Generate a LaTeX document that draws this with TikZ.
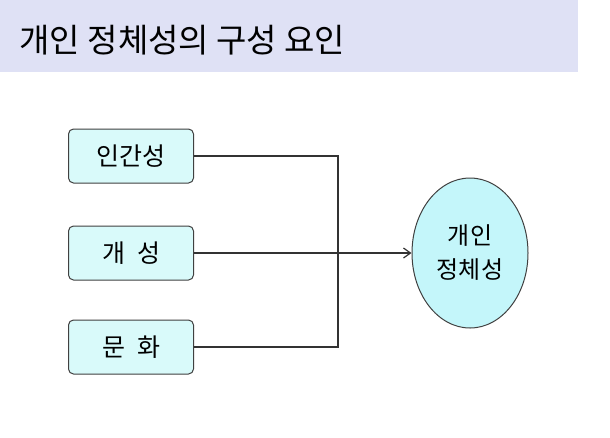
\documentclass[tikz,border=0pt]{standalone}
\usepackage{fontspec}
\setmainfont{Noto Sans CJK KR}
\usetikzlibrary{shapes.geometric,arrows.meta}
\definecolor{band}{HTML}{DFE1F5}
\definecolor{boxfill}{HTML}{D9FAFA}
\definecolor{ellfill}{HTML}{C4F6FA}
\tikzset{
  fbox/.style={draw=black!75,line width=1pt,rounded corners=5pt,fill=boxfill,minimum width=125pt,minimum height=54pt,font=\fontsize{25}{28}\selectfont},
  conn/.style={draw=black!80,line width=1.2pt},
}
\begin{document}
\begin{tikzpicture}[x=1pt,y=-1pt]
\useasboundingbox (0,0) rectangle (610,437);
\fill[white] (0,0) rectangle (610,437);
\fill[band] (0,0) rectangle (578,72);
\node[anchor=west,font=\fontsize{33}{36}\selectfont] (title) at (16,40) {개인 정체성의 구성 요인};
\node[fbox] (a) at (131,156) {인간성};
\node[fbox] (b) at (131,253) {개\hspace{12pt}성};
\node[fbox] (c) at (131,347) {문\hspace{12pt}화};
\node[ellipse,draw=black!75,line width=1pt,fill=ellfill,minimum width=116pt,minimum height=150pt,align=center,font=\fontsize{24}{34}\selectfont] (e) at (470,253) {개인\\정체성};
\coordinate (j) at (338,253);
\draw[conn] (a.east) -| (j);
\draw[conn] (c.east) -| (j);
\draw[conn,-{Straight Barb[length=7pt,width=10pt]}] (b.east) -- (b.east -| e.west);
\end{tikzpicture}
\end{document}
